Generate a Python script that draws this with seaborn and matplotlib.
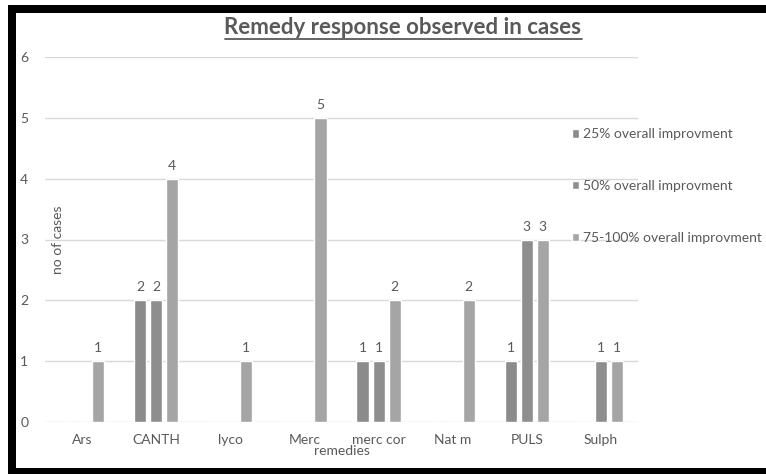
import matplotlib
matplotlib.use("Agg")
import matplotlib.pyplot as plt
from matplotlib.patches import Rectangle
from matplotlib.lines import Line2D
import seaborn as sns
import pandas as pd

# data
remedies = ["Ars", "CANTH", "lyco", "Merc", "merc cor", "Nat m", "PULS", "Sulph"]
series_names = ["25% overall improvment", "50% overall improvment", "75-100% overall improvment"]
improv_25 = [0, 2, 0, 0, 1, 0, 1, 0]
improv_50 = [0, 2, 0, 0, 1, 0, 3, 1]
improv_75_100 = [1, 4, 1, 5, 2, 2, 3, 1]
colors = ["#8b8b8b", "#8e8e8e", "#a5a5a5"]

rows = []
for name, vals in zip(series_names, [improv_25, improv_50, improv_75_100]):
    for r, v in zip(remedies, vals):
        rows.append({"remedy": r, "response": name, "cases": v})
df = pd.DataFrame(rows)

sns.set_style("white")
plt.rcParams["font.family"] = ["Lato", "DejaVu Sans"]
txt = "#595959"

fig = plt.figure(figsize=(7.66, 4.74), dpi=100)
ax = fig.add_axes([45 / 766, 1 - 422 / 474, (638 - 45) / 766, (422 - 57) / 474])

sns.barplot(data=df, x="remedy", y="cases", hue="response", palette=colors,
            width=0.65, gap=0.25, saturation=1, ax=ax, legend=True)

for cont in ax.containers:
    labs = [str(int(b.get_height())) if b.get_height() > 0 else "" for b in cont]
    ax.bar_label(cont, labels=labs, padding=5, fontsize=10, color=txt)

ax.set_ylim(0, 6)
ax.set_yticks(range(7))
ax.grid(axis="y", color="#d9d9d9", linewidth=1)
ax.set_axisbelow(True)
for s in ax.spines.values():
    s.set_visible(False)
ax.tick_params(axis="both", length=0, labelsize=10, colors=txt, pad=9)
ax.tick_params(axis="y", pad=12)
ax.set_xlabel("remedies", fontsize=10, color=txt, labelpad=-1)
ax.set_ylabel("")
ax.text(0.022, 0.5, "no of cases", transform=ax.transAxes, rotation=90,
        ha="center", va="center", fontsize=10, color=txt)

handles, labels = ax.get_legend_handles_labels()
ax.legend_.remove()
fig.legend(handles, labels, loc="upper left", bbox_to_anchor=(559 / 766, 1 - 116 / 474),
           frameon=False, fontsize=10, labelcolor=txt, handlelength=0.55, handleheight=0.55,
           handletextpad=0.25, labelspacing=2.85)

# title with underline
t = fig.text(403 / 766, 1 - 27 / 474, "Remedy response observed in cases", ha="center",
             va="center", fontsize=16, fontweight="bold", color=txt)
fig.canvas.draw()
bb = t.get_window_extent().transformed(fig.transFigure.inverted())
fig.add_artist(Line2D([bb.x0, bb.x1], [bb.y0 - 0.003, bb.y0 - 0.003],
                      transform=fig.transFigure, color=txt, linewidth=1.3))

# black frame
for x, y, w, h in [(8, 5, 758, 8), (8, 5, 8, 469), (8, 468, 758, 6)]:
    fig.add_artist(Rectangle((x / 766, 1 - (y + h) / 474), w / 766, h / 474,
                             transform=fig.transFigure, color="black", linewidth=0))

fig.savefig("out.png", dpi=100)
